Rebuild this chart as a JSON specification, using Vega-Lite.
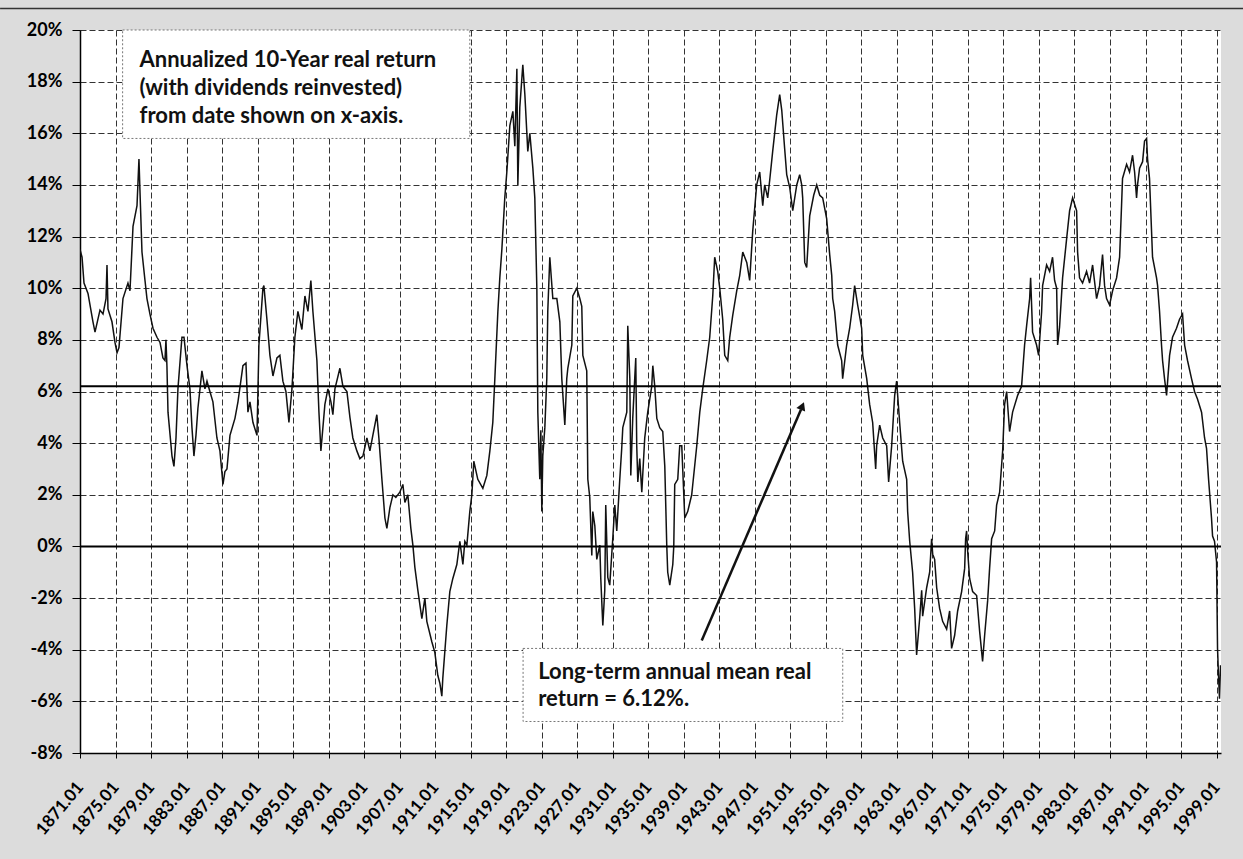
{
  "$schema": "https://vega.github.io/schema/vega-lite/v6.json",
  "width": 1141,
  "height": 723,
  "autosize": {"type": "none"},
  "padding": {"left": 80, "top": 30, "right": 22, "bottom": 106},
  "background": "#dcdcdc",
  "config": {"view": {"fill": "white", "stroke": null}, "font": "Lato"},
  "datasets": {
    "series": [
      {"t":1871.00,"r":11.5},{"t":1871.23,"r":11.2},{"t":1871.45,"r":10.2},{"t":1871.90,"r":9.8},{"t":1872.46,"r":8.7},{"t":1872.69,"r":8.3},{"t":1873.25,"r":9.15},{"t":1873.59,"r":9.0},{"t":1873.93,"r":9.6},{"t":1874.04,"r":10.9},{"t":1874.15,"r":9.2},{"t":1874.60,"r":8.7},{"t":1874.94,"r":7.9},{"t":1875.17,"r":7.5},{"t":1875.39,"r":7.7},{"t":1875.84,"r":9.6},{"t":1876.40,"r":10.2},{"t":1876.63,"r":9.9},{"t":1876.97,"r":12.4},{"t":1877.42,"r":13.2},{"t":1877.64,"r":15.0},{"t":1877.75,"r":13.8},{"t":1877.98,"r":11.4},{"t":1878.32,"r":10.3},{"t":1878.54,"r":9.6},{"t":1878.88,"r":9.0},{"t":1879.22,"r":8.45},{"t":1879.67,"r":8.1},{"t":1880.01,"r":7.9},{"t":1880.34,"r":7.3},{"t":1880.57,"r":7.2},{"t":1880.68,"r":8.0},{"t":1880.79,"r":7.0},{"t":1880.91,"r":5.2},{"t":1881.36,"r":3.5},{"t":1881.58,"r":3.1},{"t":1881.81,"r":4.2},{"t":1882.03,"r":6.1},{"t":1882.48,"r":8.1},{"t":1882.71,"r":8.1},{"t":1883.05,"r":7.0},{"t":1883.38,"r":6.1},{"t":1883.61,"r":4.6},{"t":1883.83,"r":3.5},{"t":1884.06,"r":4.3},{"t":1884.28,"r":5.35},{"t":1884.73,"r":6.8},{"t":1885.07,"r":6.1},{"t":1885.30,"r":6.4},{"t":1885.63,"r":6.0},{"t":1885.97,"r":5.6},{"t":1886.42,"r":4.2},{"t":1886.76,"r":3.7},{"t":1887.10,"r":2.4},{"t":1887.32,"r":2.9},{"t":1887.55,"r":3.0},{"t":1887.89,"r":4.3},{"t":1888.45,"r":4.96},{"t":1888.79,"r":5.6},{"t":1889.35,"r":7.0},{"t":1889.69,"r":7.1},{"t":1889.91,"r":5.2},{"t":1890.14,"r":5.6},{"t":1890.48,"r":4.8},{"t":1890.93,"r":4.3},{"t":1891.15,"r":7.8},{"t":1891.60,"r":10.0},{"t":1891.71,"r":10.1},{"t":1892.05,"r":8.8},{"t":1892.39,"r":7.4},{"t":1892.73,"r":6.6},{"t":1893.18,"r":7.3},{"t":1893.51,"r":7.4},{"t":1893.85,"r":6.4},{"t":1894.19,"r":6.0},{"t":1894.42,"r":5.2},{"t":1894.53,"r":4.8},{"t":1894.87,"r":6.1},{"t":1895.20,"r":8.1},{"t":1895.54,"r":9.1},{"t":1895.99,"r":8.4},{"t":1896.33,"r":9.7},{"t":1896.67,"r":9.1},{"t":1897.00,"r":10.3},{"t":1897.23,"r":9.1},{"t":1897.68,"r":7.2},{"t":1897.91,"r":5.2},{"t":1898.13,"r":3.7},{"t":1898.58,"r":5.5},{"t":1898.92,"r":6.1},{"t":1899.26,"r":5.6},{"t":1899.48,"r":5.1},{"t":1899.71,"r":6.1},{"t":1900.27,"r":6.9},{"t":1900.61,"r":6.2},{"t":1901.06,"r":6.0},{"t":1901.40,"r":5.0},{"t":1901.73,"r":4.2},{"t":1902.18,"r":3.7},{"t":1902.52,"r":3.4},{"t":1902.86,"r":3.5},{"t":1903.31,"r":4.2},{"t":1903.65,"r":3.7},{"t":1903.98,"r":4.3},{"t":1904.43,"r":5.1},{"t":1904.66,"r":4.2},{"t":1905.00,"r":2.6},{"t":1905.34,"r":1.1},{"t":1905.56,"r":0.7},{"t":1905.90,"r":1.5},{"t":1906.24,"r":2.0},{"t":1906.57,"r":1.9},{"t":1907.02,"r":2.1},{"t":1907.36,"r":2.4},{"t":1907.59,"r":1.7},{"t":1907.92,"r":2.0},{"t":1908.26,"r":0.7},{"t":1908.49,"r":0.05},{"t":1908.71,"r":-0.8},{"t":1909.05,"r":-1.7},{"t":1909.50,"r":-2.8},{"t":1909.84,"r":-2.0},{"t":1910.06,"r":-2.9},{"t":1910.63,"r":-3.7},{"t":1910.96,"r":-4.1},{"t":1911.30,"r":-5.0},{"t":1911.53,"r":-5.3},{"t":1911.75,"r":-5.8},{"t":1911.86,"r":-5.1},{"t":1912.31,"r":-3.06},{"t":1912.65,"r":-1.75},{"t":1912.99,"r":-1.24},{"t":1913.44,"r":-0.7},{"t":1913.78,"r":0.2},{"t":1914.12,"r":-0.7},{"t":1914.34,"r":0.2},{"t":1914.57,"r":0.05},{"t":1914.90,"r":1.35},{"t":1915.13,"r":2.0},{"t":1915.35,"r":3.3},{"t":1915.80,"r":2.6},{"t":1916.37,"r":2.25},{"t":1916.82,"r":2.75},{"t":1917.16,"r":3.7},{"t":1917.49,"r":4.8},{"t":1917.72,"r":6.5},{"t":1918.06,"r":9.1},{"t":1918.28,"r":10.4},{"t":1918.51,"r":11.5},{"t":1918.84,"r":13.5},{"t":1919.07,"r":14.5},{"t":1919.41,"r":16.3},{"t":1919.75,"r":16.85},{"t":1919.97,"r":15.5},{"t":1920.20,"r":18.5},{"t":1920.31,"r":14.0},{"t":1920.53,"r":17.0},{"t":1920.87,"r":18.65},{"t":1921.10,"r":17.5},{"t":1921.43,"r":15.3},{"t":1921.66,"r":16.0},{"t":1922.00,"r":14.65},{"t":1922.22,"r":13.5},{"t":1922.45,"r":10.0},{"t":1922.56,"r":5.2},{"t":1922.78,"r":2.6},{"t":1922.90,"r":4.5},{"t":1923.01,"r":1.35},{"t":1923.12,"r":3.5},{"t":1923.35,"r":4.6},{"t":1923.57,"r":6.5},{"t":1923.68,"r":9.1},{"t":1923.91,"r":11.2},{"t":1924.25,"r":9.6},{"t":1924.70,"r":9.6},{"t":1925.04,"r":8.7},{"t":1925.26,"r":6.5},{"t":1925.60,"r":4.7},{"t":1925.82,"r":6.5},{"t":1925.94,"r":6.9},{"t":1926.39,"r":7.8},{"t":1926.50,"r":9.7},{"t":1926.95,"r":10.0},{"t":1927.29,"r":9.6},{"t":1927.51,"r":9.3},{"t":1927.63,"r":7.4},{"t":1928.07,"r":6.8},{"t":1928.19,"r":2.6},{"t":1928.41,"r":1.9},{"t":1928.64,"r":-0.35},{"t":1928.75,"r":1.35},{"t":1928.98,"r":0.8},{"t":1929.20,"r":-0.5},{"t":1929.54,"r":0.05},{"t":1929.65,"r":-1.24},{"t":1929.88,"r":-3.06},{"t":1930.10,"r":-1.7},{"t":1930.21,"r":1.6},{"t":1930.44,"r":-1.2},{"t":1930.66,"r":-1.5},{"t":1931.00,"r":0.3},{"t":1931.23,"r":1.6},{"t":1931.45,"r":0.6},{"t":1931.79,"r":2.6},{"t":1932.01,"r":3.8},{"t":1932.13,"r":4.6},{"t":1932.58,"r":5.2},{"t":1932.69,"r":8.55},{"t":1932.92,"r":6.5},{"t":1933.03,"r":2.75},{"t":1933.25,"r":4.96},{"t":1933.59,"r":7.3},{"t":1933.70,"r":3.9},{"t":1933.82,"r":2.5},{"t":1934.04,"r":3.4},{"t":1934.27,"r":2.1},{"t":1934.60,"r":4.2},{"t":1934.94,"r":5.2},{"t":1935.39,"r":6.2},{"t":1935.51,"r":7.0},{"t":1935.73,"r":6.2},{"t":1935.96,"r":4.96},{"t":1936.29,"r":4.6},{"t":1936.63,"r":4.45},{"t":1936.86,"r":3.1},{"t":1937.08,"r":0.05},{"t":1937.19,"r":-1.0},{"t":1937.42,"r":-1.5},{"t":1937.76,"r":-0.7},{"t":1937.87,"r":0.0},{"t":1937.98,"r":2.4},{"t":1938.32,"r":2.6},{"t":1938.54,"r":3.9},{"t":1938.77,"r":3.9},{"t":1939.11,"r":1.1},{"t":1939.44,"r":1.35},{"t":1939.89,"r":2.0},{"t":1940.01,"r":2.4},{"t":1940.46,"r":3.9},{"t":1940.80,"r":5.2},{"t":1941.13,"r":6.1},{"t":1941.58,"r":7.2},{"t":1941.92,"r":8.1},{"t":1942.26,"r":9.7},{"t":1942.48,"r":11.2},{"t":1942.82,"r":10.65},{"t":1943.05,"r":10.0},{"t":1943.38,"r":8.8},{"t":1943.61,"r":7.4},{"t":1943.95,"r":7.2},{"t":1944.17,"r":8.1},{"t":1944.51,"r":8.95},{"t":1944.96,"r":9.9},{"t":1945.30,"r":10.5},{"t":1945.64,"r":11.4},{"t":1946.09,"r":11.0},{"t":1946.42,"r":10.3},{"t":1946.76,"r":12.2},{"t":1947.21,"r":14.0},{"t":1947.55,"r":14.5},{"t":1947.89,"r":13.2},{"t":1948.11,"r":14.0},{"t":1948.45,"r":13.5},{"t":1948.68,"r":14.2},{"t":1949.01,"r":15.3},{"t":1949.46,"r":16.7},{"t":1949.80,"r":17.5},{"t":1950.03,"r":16.9},{"t":1950.36,"r":15.4},{"t":1950.59,"r":14.4},{"t":1950.93,"r":13.9},{"t":1951.27,"r":13.0},{"t":1951.72,"r":14.0},{"t":1952.05,"r":14.4},{"t":1952.28,"r":14.0},{"t":1952.39,"r":13.5},{"t":1952.62,"r":11.0},{"t":1952.84,"r":10.8},{"t":1953.18,"r":12.8},{"t":1953.63,"r":13.6},{"t":1953.97,"r":14.0},{"t":1954.31,"r":13.6},{"t":1954.64,"r":13.5},{"t":1955.09,"r":12.7},{"t":1955.43,"r":11.3},{"t":1955.66,"r":10.5},{"t":1955.77,"r":9.6},{"t":1955.99,"r":9.1},{"t":1956.33,"r":7.8},{"t":1956.78,"r":7.2},{"t":1956.89,"r":6.5},{"t":1957.34,"r":7.8},{"t":1957.68,"r":8.45},{"t":1958.02,"r":9.35},{"t":1958.24,"r":10.1},{"t":1958.58,"r":9.35},{"t":1959.03,"r":8.45},{"t":1959.15,"r":7.4},{"t":1959.60,"r":6.5},{"t":1959.93,"r":5.5},{"t":1960.27,"r":4.8},{"t":1960.61,"r":3.0},{"t":1960.72,"r":3.9},{"t":1961.06,"r":4.7},{"t":1961.40,"r":4.2},{"t":1961.85,"r":3.9},{"t":1962.07,"r":2.5},{"t":1962.41,"r":3.9},{"t":1962.75,"r":5.85},{"t":1962.97,"r":6.4},{"t":1963.31,"r":4.8},{"t":1963.65,"r":3.3},{"t":1964.10,"r":2.6},{"t":1964.21,"r":1.35},{"t":1964.44,"r":0.2},{"t":1964.77,"r":-1.0},{"t":1965.00,"r":-2.4},{"t":1965.22,"r":-4.2},{"t":1965.56,"r":-2.8},{"t":1965.79,"r":-1.7},{"t":1965.90,"r":-2.7},{"t":1966.35,"r":-1.6},{"t":1966.69,"r":-1.0},{"t":1966.91,"r":0.3},{"t":1967.03,"r":-0.3},{"t":1967.25,"r":-0.5},{"t":1967.48,"r":-1.6},{"t":1967.81,"r":-2.4},{"t":1968.15,"r":-2.9},{"t":1968.60,"r":-3.2},{"t":1968.94,"r":-2.5},{"t":1969.16,"r":-3.95},{"t":1969.50,"r":-3.45},{"t":1969.84,"r":-2.5},{"t":1970.29,"r":-1.75},{"t":1970.63,"r":-0.85},{"t":1970.74,"r":0.3},{"t":1970.85,"r":0.6},{"t":1970.97,"r":-0.2},{"t":1971.19,"r":-1.24},{"t":1971.53,"r":-1.75},{"t":1971.98,"r":-1.9},{"t":1972.32,"r":-3.3},{"t":1972.65,"r":-4.45},{"t":1972.88,"r":-3.45},{"t":1973.22,"r":-2.1},{"t":1973.44,"r":-0.85},{"t":1973.67,"r":0.3},{"t":1974.01,"r":0.6},{"t":1974.23,"r":1.6},{"t":1974.57,"r":2.1},{"t":1974.91,"r":3.7},{"t":1975.13,"r":5.5},{"t":1975.36,"r":6.0},{"t":1975.69,"r":4.45},{"t":1976.03,"r":5.2},{"t":1976.60,"r":5.85},{"t":1977.04,"r":6.2},{"t":1977.38,"r":7.8},{"t":1977.61,"r":8.55},{"t":1977.95,"r":9.6},{"t":1978.06,"r":10.4},{"t":1978.28,"r":8.3},{"t":1978.73,"r":7.8},{"t":1978.96,"r":7.4},{"t":1979.30,"r":9.1},{"t":1979.41,"r":10.1},{"t":1979.86,"r":10.9},{"t":1980.20,"r":10.65},{"t":1980.53,"r":11.2},{"t":1980.76,"r":10.3},{"t":1980.99,"r":10.0},{"t":1981.10,"r":7.8},{"t":1981.32,"r":8.5},{"t":1981.66,"r":10.4},{"t":1982.11,"r":11.9},{"t":1982.45,"r":13.0},{"t":1982.79,"r":13.5},{"t":1983.24,"r":13.0},{"t":1983.35,"r":11.4},{"t":1983.57,"r":10.4},{"t":1983.91,"r":10.2},{"t":1984.36,"r":10.65},{"t":1984.70,"r":10.2},{"t":1985.04,"r":10.9},{"t":1985.49,"r":9.6},{"t":1985.83,"r":10.1},{"t":1986.16,"r":11.3},{"t":1986.39,"r":10.1},{"t":1986.61,"r":9.6},{"t":1986.95,"r":9.35},{"t":1987.29,"r":9.9},{"t":1987.74,"r":10.4},{"t":1988.08,"r":11.2},{"t":1988.30,"r":13.2},{"t":1988.41,"r":14.25},{"t":1988.87,"r":14.8},{"t":1989.20,"r":14.5},{"t":1989.54,"r":15.15},{"t":1989.77,"r":14.5},{"t":1989.99,"r":13.5},{"t":1990.10,"r":14.0},{"t":1990.33,"r":14.65},{"t":1990.67,"r":14.9},{"t":1990.89,"r":15.7},{"t":1991.12,"r":15.8},{"t":1991.23,"r":15.0},{"t":1991.45,"r":14.25},{"t":1991.68,"r":12.2},{"t":1991.79,"r":11.2},{"t":1992.24,"r":10.4},{"t":1992.36,"r":10.1},{"t":1992.58,"r":9.1},{"t":1992.80,"r":7.8},{"t":1992.92,"r":7.2},{"t":1993.14,"r":6.5},{"t":1993.37,"r":5.85},{"t":1993.71,"r":7.4},{"t":1994.04,"r":8.1},{"t":1994.49,"r":8.45},{"t":1994.83,"r":8.8},{"t":1995.17,"r":9.0},{"t":1995.40,"r":7.8},{"t":1995.73,"r":7.2},{"t":1996.18,"r":6.5},{"t":1996.52,"r":6.0},{"t":1996.86,"r":5.7},{"t":1997.31,"r":5.2},{"t":1997.65,"r":4.2},{"t":1997.87,"r":3.8},{"t":1998.10,"r":2.6},{"t":1998.43,"r":1.1},{"t":1998.55,"r":0.4},{"t":1998.77,"r":0.2},{"t":1999.00,"r":-0.6},{"t":1999.11,"r":-3.95},{"t":1999.22,"r":-5.0},{"t":1999.33,"r":-5.9},{"t":1999.45,"r":-4.6}
    ],
    "refs": [{"v": 0}, {"v": 6.2}],
    "boxes": [
      {"x1": 1875.8, "x2": 1914.9, "y1": 20.0, "y2": 15.8},
      {"x1": 1920.9, "x2": 1956.9, "y1": -3.95, "y2": -6.78}
    ],
    "notes": [
      {"x": 1877.7, "y": 18.57, "text": "Annualized 10-Year real return"},
      {"x": 1877.7, "y": 17.48, "text": "(with dividends reinvested)"},
      {"x": 1877.7, "y": 16.40, "text": "from date shown on x-axis."},
      {"x": 1922.6, "y": -5.15, "text": "Long-term  annual mean real"},
      {"x": 1922.6, "y": -6.18, "text": "return = 6.12%."}
    ],
    "arrow": [{"x": 1941.02, "y": -3.64, "x2": 1952.2, "y2": 5.3}],
    "head": [{"x": 1952.35, "y": 5.44}],
    "border": [{"x": 1862, "x2": 2002, "y": 20.83}]
  },
  "layer": [
    {
      "data": {"name": "series"},
      "mark": {"type": "line", "color": "#111111", "strokeWidth": 1.5, "clip": true},
      "encoding": {
        "x": {
          "field": "t", "type": "quantitative", "title": null,
          "scale": {"domain": [1871, 1999.5], "nice": false, "zero": false},
          "axis": {
            "title": null,
            "values": [1871,1875,1879,1883,1887,1891,1895,1899,1903,1907,1911,1915,1919,1923,1927,1931,1935,1939,1943,1947,1951,1955,1959,1963,1967,1971,1975,1979,1983,1987,1991,1995,1999],
            "tickCount": 60,
            "labelExpr": "datum.value + '.01'",
            "labelAngle": -50,
            "labelFont": "Lato", "labelFontWeight": "bold", "labelFontSize": 17, "labelColor": "#000000",
            "labelOverlap": false, "labelFlush": false, "labelBound": false,
            "labelPadding": 26,
            "tickSize": 5, "tickColor": "#000000",
            "domainColor": "#000000", "domainWidth": 1.5,
            "grid": true, "gridColor": "#333333", "gridDash": [6, 3], "gridWidth": 1
          }
        },
        "y": {
          "field": "r", "type": "quantitative", "title": null,
          "scale": {"domain": [-8, 20], "nice": false, "zero": false},
          "axis": {
            "title": null,
            "values": [-8,-6,-4,-2,0,2,4,6,8,10,12,14,16,18,20],
            "tickCount": 40,
            "labelExpr": "datum.value + '%'",
            "labelFont": "Lato", "labelFontWeight": "bold", "labelFontSize": 18, "labelColor": "#000000",
            "labelPadding": 10,
            "tickSize": 8, "tickColor": "#000000",
            "domainColor": "#000000", "domainWidth": 1.5,
            "grid": true, "gridColor": "#333333", "gridDash": [6, 3], "gridWidth": 1
          }
        }
      }
    },
    {
      "data": {"name": "refs"},
      "mark": {"type": "rule", "color": "#000000", "strokeWidth": 2},
      "encoding": {"y": {"field": "v", "type": "quantitative", "title": null}}
    },
    {
      "data": {"name": "border"},
      "mark": {"type": "rule", "color": "#333333", "strokeWidth": 1.5, "clip": false},
      "encoding": {
        "x": {"field": "x", "type": "quantitative", "title": null},
        "x2": {"field": "x2"},
        "y": {"field": "y", "type": "quantitative", "title": null}
      }
    },
    {
      "data": {"name": "boxes"},
      "mark": {"type": "rect", "fill": "white", "stroke": "#777777", "strokeDash": [2, 2], "strokeWidth": 1},
      "encoding": {
        "x": {"field": "x1", "type": "quantitative", "title": null},
        "x2": {"field": "x2"},
        "y": {"field": "y1", "type": "quantitative", "title": null},
        "y2": {"field": "y2"}
      }
    },
    {
      "data": {"name": "notes"},
      "mark": {"type": "text", "align": "left", "baseline": "alphabetic", "font": "Lato", "fontWeight": "bold", "fontSize": 22, "color": "#111111"},
      "encoding": {
        "x": {"field": "x", "type": "quantitative", "title": null},
        "y": {"field": "y", "type": "quantitative", "title": null},
        "text": {"field": "text"}
      }
    },
    {
      "data": {"name": "arrow"},
      "mark": {"type": "rule", "color": "#111111", "strokeWidth": 2.5},
      "encoding": {
        "x": {"field": "x", "type": "quantitative", "title": null},
        "y": {"field": "y", "type": "quantitative", "title": null},
        "x2": {"field": "x2"},
        "y2": {"field": "y2"}
      }
    },
    {
      "data": {"name": "head"},
      "mark": {"type": "point", "shape": "triangle-up", "filled": true, "color": "#111111", "size": 90, "angle": 23, "opacity": 1},
      "encoding": {
        "x": {"field": "x", "type": "quantitative", "title": null},
        "y": {"field": "y", "type": "quantitative", "title": null}
      }
    }
  ]
}
